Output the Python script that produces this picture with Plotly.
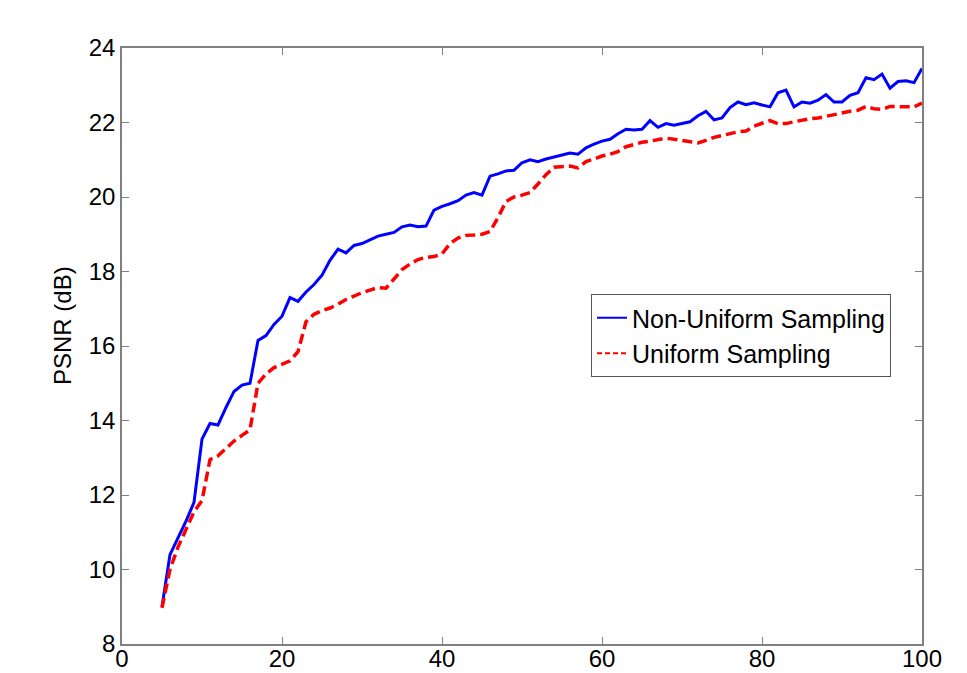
import plotly.graph_objects as go

# Data (x = number of samples / percentage, 5..100)
x_vals = list(range(5, 101))

non_uniform = [
    9.0, 10.4, 10.85, 11.3, 11.8, 13.5, 13.92, 13.88, 14.35, 14.78,
    14.95, 15.0, 16.15, 16.28, 16.58, 16.8, 17.3, 17.2, 17.45, 17.65,
    17.9, 18.3, 18.6, 18.5, 18.7, 18.75, 18.85, 18.95, 19.0, 19.05,
    19.2, 19.25, 19.2, 19.22, 19.65, 19.75, 19.82, 19.9, 20.05, 20.12,
    20.05, 20.56, 20.62, 20.7, 20.72, 20.92, 21.0, 20.95, 21.02, 21.07,
    21.12, 21.18, 21.15, 21.32, 21.42, 21.5, 21.55, 21.7, 21.82, 21.8,
    21.82, 22.05, 21.87, 21.97, 21.93, 21.97, 22.02, 22.18, 22.3, 22.07,
    22.12, 22.4, 22.55, 22.48, 22.53, 22.47, 22.42, 22.8, 22.87, 22.42,
    22.55, 22.52, 22.6, 22.75, 22.55, 22.55, 22.73, 22.8, 23.2, 23.15,
    23.3, 22.92, 23.1, 23.12, 23.07, 23.45,
]

uniform = [
    8.97, 10.0, 10.6, 11.1, 11.55, 11.85, 12.95, 13.05, 13.25, 13.45,
    13.6, 13.75, 15.0, 15.25, 15.42, 15.5, 15.6, 15.85, 16.65, 16.85,
    16.95, 17.02, 17.12, 17.25, 17.35, 17.43, 17.5, 17.57, 17.55, 17.8,
    18.05, 18.2, 18.32, 18.38, 18.4, 18.47, 18.75, 18.9, 18.97, 18.98,
    19.0, 19.07, 19.45, 19.88, 20.0, 20.05, 20.12, 20.35, 20.6, 20.8,
    20.82, 20.83, 20.78, 20.95, 21.02, 21.1, 21.15, 21.22, 21.35, 21.42,
    21.47, 21.5, 21.55, 21.58, 21.55, 21.52, 21.48, 21.45, 21.52, 21.6,
    21.65, 21.7, 21.75, 21.77, 21.9, 21.98, 22.05, 21.97, 21.97, 22.02,
    22.07, 22.1, 22.12, 22.17, 22.22, 22.27, 22.3, 22.33, 22.43, 22.37,
    22.35, 22.43, 22.42, 22.42, 22.42, 22.52,
]

series_names = ["Non-Uniform Sampling", "Uniform Sampling"]
x_ticks = [0, 20, 40, 60, 80, 100]
y_ticks = [8, 10, 12, 14, 16, 18, 20, 22, 24]

W, H = 967, 673
L, R, T, B = 122, 45, 48, 29
plot_w = W - L - R
plot_h = H - T - B

FONT = "Liberation Sans, Arial, sans-serif"

fig = go.Figure()

fig.add_trace(go.Scatter(
    x=x_vals, y=non_uniform, mode="lines", showlegend=False,
    line=dict(color="#0000ff", width=3),
))
fig.add_trace(go.Scatter(
    x=x_vals, y=uniform, mode="lines", showlegend=False,
    line=dict(color="#ff0000", width=3.5, dash="10px,5px"),
))

# legend-only entries with thinner sample lines
fig.add_trace(go.Scatter(
    x=[None], y=[None], mode="lines", name=series_names[0],
    line=dict(color="#0000ff", width=2),
))
fig.add_trace(go.Scatter(
    x=[None], y=[None], mode="lines", name=series_names[1],
    line=dict(color="#ff0000", width=2, dash="5px,3px"),
))

axis_common = dict(
    showgrid=False, zeroline=False, showline=True, mirror="ticks",
    linecolor="#808080", linewidth=1.5,
    ticks="inside", ticklen=7, tickwidth=1, tickcolor="#808080",
    tickfont=dict(family=FONT, size=24, color="#000000"),
    automargin=False,
)

fig.update_xaxes(range=[0, 100], tickvals=x_ticks, ticklabelstandoff=-8, **axis_common)
fig.update_yaxes(range=[8, 24], tickvals=y_ticks, **axis_common)

legend_left = 591
legend_top = 294
fig.update_layout(
    width=W, height=H,
    margin=dict(l=L, r=R, t=T, b=B, autoexpand=False),
    paper_bgcolor="#ffffff", plot_bgcolor="#ffffff",
    font=dict(family=FONT, color="#000000"),
    legend=dict(
        x=(legend_left - L) / plot_w,
        y=(H - B - legend_top) / plot_h,
        xanchor="left", yanchor="top",
        bgcolor="#ffffff", bordercolor="#555555", borderwidth=1,
        font=dict(family=FONT, size=25, color="#000000"),
        itemwidth=30, tracegroupgap=0,
    ),
    annotations=[dict(
        text="PSNR (dB)", textangle=-90, showarrow=False,
        xref="paper", yref="paper",
        x=(62 - L) / plot_w, y=(H - B - 326) / plot_h,
        xanchor="center", yanchor="middle",
        font=dict(family=FONT, size=24, color="#000000"),
    )],
)

fig.write_html(
    "out.html",
    config={"displayModeBar": False},
    post_script="document.body.style.margin='0';document.body.style.overflow='hidden';",
)
